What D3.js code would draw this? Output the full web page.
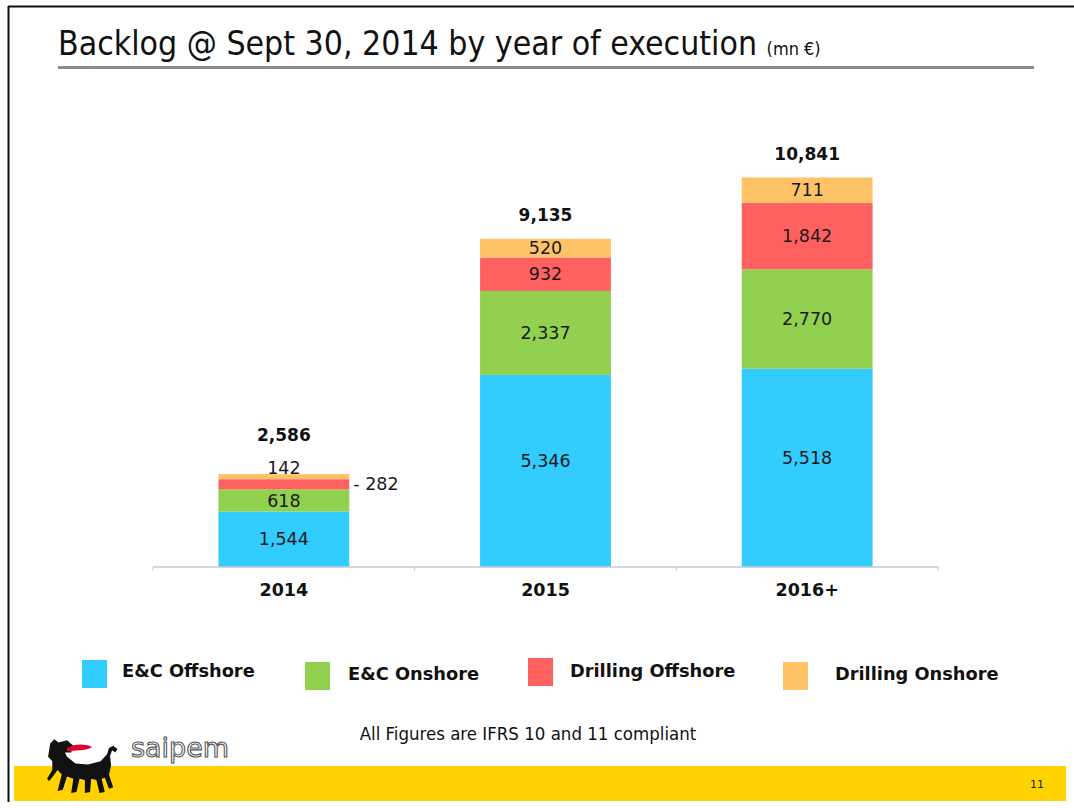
<!DOCTYPE html>
<html>
<head>
<meta charset="utf-8">
<script src="https://cdn.jsdelivr.net/npm/d3@7"></script>
<style>
  body { margin:0; background:#fff; }
  svg { display:block; }
</style>
</head>
<body>
<div id="chart"></div>
<script>
// backlog by year of execution (mn €)
var years = ["2014", "2015", "2016+"]
var seriesNames = ["E&C Offshore", "E&C Onshore", "Drilling Offshore", "Drilling Onshore"]
var ecOffshore = [1544, 5346, 5518]
var ecOnshore = [618, 2337, 2770]
var drillingOffshore = [282, 932, 1842]
var drillingOnshore = [142, 520, 711]
var totals = [2586, 9135, 10841]

var colors = {
  "E&C Offshore": "#33ccff",
  "E&C Onshore": "#92d050",
  "Drilling Offshore": "#ff6161",
  "Drilling Onshore": "#ffc266"
}

var W = 1074, H = 808
var svg = d3.select("#chart").append("svg").attr("width", W).attr("height", H)
var fmt = d3.format(",")
var font = "'DejaVu Sans', Verdana, sans-serif"
var condensed = "'DejaVu Sans Condensed', 'DejaVu Sans', sans-serif"

// slide frame (top + left only)
svg.append("line").attr("x1", 8).attr("x2", W).attr("y1", 6.5).attr("y2", 6.5).attr("stroke", "#111").attr("stroke-width", 2)
svg.append("line").attr("x1", 8.5).attr("x2", 8.5).attr("y1", 6).attr("y2", 802).attr("stroke", "#111").attr("stroke-width", 2)

// title
var title = svg.append("text").attr("x", 58).attr("y", 55)
  .attr("font-family", condensed).attr("font-size", 33.5).attr("fill", "#111")
title.append("tspan").text("Backlog @ Sept 30, 2014 by year of execution ")
title.append("tspan").attr("font-size", 18).text("(mn €)")
svg.append("rect").attr("x", 58).attr("y", 66).attr("width", 976).attr("height", 3).attr("fill", "#8c8c8c")

// data table for stacking
var table = years.map(function(y, i) {
  return {
    year: y,
    "E&C Offshore": ecOffshore[i],
    "E&C Onshore": ecOnshore[i],
    "Drilling Offshore": drillingOffshore[i],
    "Drilling Onshore": drillingOnshore[i],
    total: totals[i]
  }
})
var stacked = d3.stack().keys(seriesNames)(table)

var x = d3.scaleBand().domain(years).range([153, 938]).paddingInner(0.5).paddingOuter(0.25)
var y = d3.scaleLinear().domain([0, 10841]).range([567, 177.5])

var layers = svg.append("g").selectAll("g").data(stacked).enter().append("g")
  .attr("fill", function(d) { return colors[d.key] })

layers.selectAll("rect").data(function(d) { return d }).enter().append("rect")
  .attr("x", function(d) { return x(d.data.year) })
  .attr("width", x.bandwidth())
  .attr("y", function(d) { return y(d[1]) })
  .attr("height", function(d) { return y(d[0]) - y(d[1]) })

// segment labels
stacked.forEach(function(layer) {
  layer.forEach(function(d) {
    var v = d[1] - d[0]
    var cx = x(d.data.year) + x.bandwidth() / 2
    var cy = (y(d[0]) + y(d[1])) / 2
    var anchor = "middle"
    var txt = fmt(v)
    if (v < 200) {
      cy = y(d[1]) - 6
    } else if (v < 400) {
      cx = x(d.data.year) + x.bandwidth() + 4
      anchor = "start"
      txt = "- " + txt
    } else if (layer.key == "E&C Offshore" && v > 3000) {
      cy = cy - 10
    }
    svg.append("text").attr("x", cx).attr("y", cy).attr("dy", "0.35em")
      .attr("text-anchor", anchor).attr("font-family", font).attr("font-size", 17.5)
      .attr("fill", "#1a1a1a").text(txt)
  })
})

// totals
svg.append("g").selectAll("text").data(table).enter().append("text")
  .attr("x", function(d) { return x(d.year) + x.bandwidth() / 2 })
  .attr("y", function(d) { return y(d.total) - (d.total < 5000 ? 33 : 18) })
  .attr("text-anchor", "middle").attr("font-family", font).attr("font-weight", "bold")
  .attr("font-size", 17).attr("fill", "#111")
  .text(function(d) { return fmt(d.total) })

// axis
var axis = svg.append("g").attr("transform", "translate(0,567)")
axis.append("line").attr("x1", 153).attr("x2", 938).attr("stroke", "#c8c8c8").attr("stroke-width", 1.5)
var bounds = [153].concat(years.map(function(d) { return x(d) + x.bandwidth() + x.step() * 0.25 }))
axis.selectAll(".tk").data(bounds).enter().append("line")
  .attr("x1", function(d) { return d }).attr("x2", function(d) { return d })
  .attr("y1", 0).attr("y2", 4).attr("stroke", "#c8c8c8")
axis.selectAll(".lbl").data(years).enter().append("text")
  .attr("x", function(d) { return x(d) + x.bandwidth() / 2 }).attr("y", 29)
  .attr("text-anchor", "middle").attr("font-family", font).attr("font-weight", "bold")
  .attr("font-size", 17.5).attr("fill", "#111").text(function(d) { return d })

// legend
var legendPos = [
  { sx: 82, sy: 660, tx: 122, ty: 677 },
  { sx: 305, sy: 662, tx: 348, ty: 680 },
  { sx: 528, sy: 658, tx: 570, ty: 677 },
  { sx: 783, sy: 662, tx: 835, ty: 680 }
]
var legend = svg.append("g").selectAll("g").data(seriesNames).enter().append("g")
legend.append("rect")
  .attr("x", function(d, i) { return legendPos[i].sx }).attr("y", function(d, i) { return legendPos[i].sy })
  .attr("width", 25).attr("height", 28).attr("fill", function(d) { return colors[d] })
legend.append("text")
  .attr("x", function(d, i) { return legendPos[i].tx }).attr("y", function(d, i) { return legendPos[i].ty })
  .attr("font-family", font).attr("font-weight", "bold").attr("font-size", 17.8).attr("fill", "#111")
  .text(function(d) { return d })

// footnote
svg.append("text").attr("x", 528).attr("y", 740).attr("text-anchor", "middle")
  .attr("font-family", condensed).attr("font-size", 18.5).attr("fill", "#111")
  .text("All Figures are IFRS 10 and 11 compliant")

// yellow band + page number
svg.append("rect").attr("x", 14).attr("y", 766).attr("width", 1052).attr("height", 35).attr("fill", "#ffd200")
svg.append("text").attr("x", 1037).attr("y", 788).attr("text-anchor", "middle")
  .attr("font-family", font).attr("font-size", 11).attr("fill", "#222").text("11")

// logo: rough six-legged dog + flame, and wordmark
var logo = svg.append("g").attr("transform", "translate(46,737) scale(1.05,1.1)")
logo.append("path").attr("fill", "#111").attr("d",
  "M4,6 L8,2 L12,5 L20,3 L26,8 L24,14 L18,14 L20,18 L28,24 L40,25 L52,22 L58,16 L60,10 L64,8 L68,11 L66,14 L63,12 L61,17 L62,26 L60,34 " +
  "L64,46 L60,47 L56,37 L53,38 L56,50 L51,51 L48,39 L43,38 L42,50 L37,51 L37,39 L32,38 L29,50 L24,51 L26,38 L20,36 L16,48 L11,49 " +
  "L15,34 L11,30 L8,34 L3,40 L1,38 L6,30 L6,22 L2,18 Z")
logo.append("path").attr("fill", "#e0002a").attr("d",
  "M20,10 C28,6 36,6 44,9 C40,11 36,12 32,12 C28,12 24,13 20,13 Z")
svg.append("text").attr("x", 131).attr("y", 757)
  .attr("font-family", font).attr("font-size", 27).attr("fill", "#fff")
  .attr("stroke", "#555").attr("stroke-width", 1.1).text("saipem")
</script>
</body>
</html>
